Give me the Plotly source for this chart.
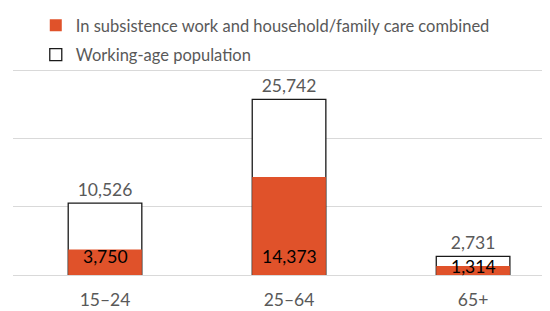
import plotly.graph_objects as go

categories = ["15–24", "25–64", "65+"]
working_age = [10526, 25742, 2731]
subsistence = [3750, 14373, 1314]

GRAY = "#595959"
ORANGE = "#E0522A"
FONT = "Lato"
LABEL_SIZE = 17.5
INNER_SHIFT = [6, 6, -4]  # style offsets (px) for the inside-base labels

fig = go.Figure()
fig.add_trace(go.Bar(
    x=categories, y=working_age, name="Working-age population",
    marker=dict(color="white", line=dict(color="#1a1a1a", width=1.3)),
    width=0.4,
    text=[f"{v:,}" for v in working_age], textposition="outside",
    textfont=dict(color=GRAY, size=LABEL_SIZE, family=FONT),
    cliponaxis=False, legendrank=2, legendgroup="b",
))
fig.add_trace(go.Bar(
    x=categories, y=subsistence, name="In subsistence work and household/family care combined",
    marker=dict(color=ORANGE, line=dict(width=0)),
    width=0.4,
    cliponaxis=False, legendrank=1, legendgroup="a",
))

for cat, val, sh in zip(categories, subsistence, INNER_SHIFT):
    fig.add_annotation(x=cat, y=0, text=f"{val:,}", showarrow=False,
                       yanchor="bottom", yshift=sh,
                       font=dict(color="black", size=LABEL_SIZE, family=FONT))

fig.update_layout(
    width=550, height=311,
    barmode="overlay",
    plot_bgcolor="white", paper_bgcolor="white",
    margin=dict(l=5, r=8, t=59, b=44, autoexpand=False),
    font=dict(family=FONT, color=GRAY, size=16.5),
    showlegend=True,
    legend=dict(x=0.0505, y=1.019, xref="container", yref="container",
                xanchor="left", yanchor="top", bgcolor="rgba(0,0,0,0)",
                font=dict(size=16.5, color=GRAY, family=FONT),
                tracegroupgap=5, itemwidth=30),
    xaxis=dict(type="category", range=[-0.5, 2.418], showgrid=False, zeroline=False,
               showline=False, ticks="", ticklabelstandoff=12,
               tickfont=dict(size=LABEL_SIZE, color=GRAY)),
    yaxis=dict(range=[0, 30500], dtick=10000, showticklabels=False,
               gridcolor="#d9d9d9", gridwidth=1, zeroline=True,
               zerolinecolor="#d9d9d9", zerolinewidth=1),
)

fig.write_html("out.html")
